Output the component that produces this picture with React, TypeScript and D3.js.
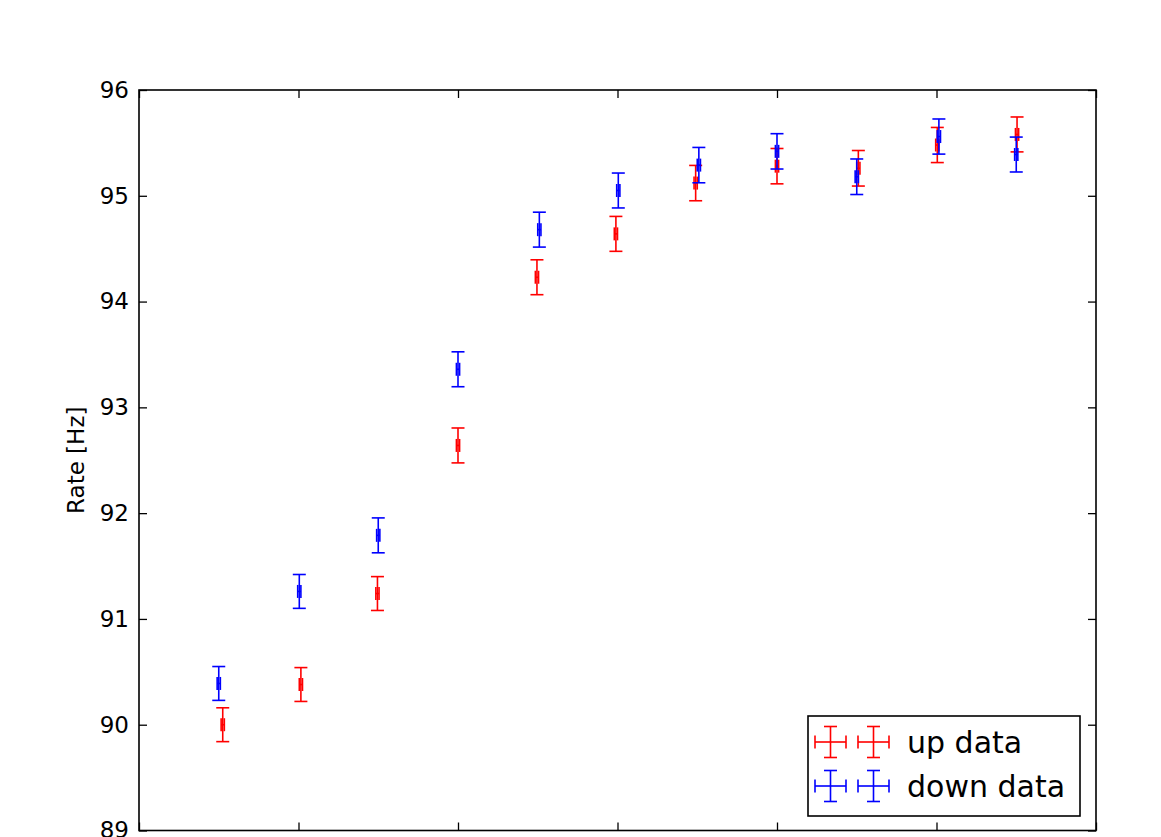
import React, { useEffect, useRef } from 'react';
import * as d3 from 'd3';

// measurement index (slightly jittered as in the original)
const upX = [1.05, 2.03, 2.99, 4.0, 4.99, 5.98, 6.98, 8.0, 9.02, 10.01, 11.01];
const upRate = [90.0, 90.38, 91.24, 92.64, 94.23, 94.64, 95.12, 95.28, 95.26, 95.48, 95.58];
const upErr = [0.16, 0.16, 0.16, 0.165, 0.165, 0.165, 0.167, 0.167, 0.168, 0.166, 0.165];

const downX = [1.0, 2.01, 3.0, 4.0, 5.02, 6.01, 7.02, 8.0, 9.0, 10.03, 11.0];
const downRate = [90.39, 91.26, 91.79, 93.36, 94.68, 95.05, 95.29, 95.42, 95.18, 95.56, 95.39];
const downErr = [0.16, 0.16, 0.165, 0.165, 0.165, 0.165, 0.167, 0.167, 0.168, 0.166, 0.165];

const xErr = 0.02;
const yTicks = [89, 90, 91, 92, 93, 94, 95, 96];
const xTicks = [0, 2, 4, 6, 8, 10, 12];

const series = [
  { name: 'up data', color: '#ff0000', xs: upX, ys: upRate, err: upErr },
  { name: 'down data', color: '#0000ff', xs: downX, ys: downRate, err: downErr },
];

const App: React.FC = () => {
  const svgRef = useRef<SVGSVGElement>(null);

  useEffect(() => {
    if (!svgRef.current) return;
    const svg = d3.select(svgRef.current);
    svg.selectAll('*').remove();

    const width = 1161;
    const height = 837;
    const margin = { top: 90, right: 65, left: 139 };
    const plotBottom = 830.5;
    const font = 'DejaVu Sans, sans-serif';

    const x = d3.scaleLinear().domain([0, 12]).range([margin.left, width - margin.right]);
    const y = d3.scaleLinear().domain([89, 96]).range([plotBottom, margin.top]);

    svg.append('rect').attr('width', width).attr('height', height).attr('fill', '#fff');

    const cap = 6.5;
    const lw = 1.6;

    // Error bars
    series.forEach(s => {
      const g = svg.append('g').attr('stroke', s.color).attr('stroke-width', lw).attr('fill', 'none');
      s.xs.forEach((xv, i) => {
        const cx = x(xv);
        const cy = y(s.ys[i]);
        const y0 = y(s.ys[i] - s.err[i]);
        const y1 = y(s.ys[i] + s.err[i]);
        const x0 = x(xv - xErr);
        const x1 = x(xv + xErr);
        g.append('line').attr('x1', cx).attr('x2', cx).attr('y1', y0).attr('y2', y1);
        g.append('line').attr('x1', cx - cap).attr('x2', cx + cap).attr('y1', y0).attr('y2', y0);
        g.append('line').attr('x1', cx - cap).attr('x2', cx + cap).attr('y1', y1).attr('y2', y1);
        g.append('line').attr('x1', x0).attr('x2', x1).attr('y1', cy).attr('y2', cy);
        g.append('line').attr('x1', x0).attr('x2', x0).attr('y1', cy - cap).attr('y2', cy + cap);
        g.append('line').attr('x1', x1).attr('x2', x1).attr('y1', cy - cap).attr('y2', cy + cap);
      });
    });

    // Axes (ticks inward on all four sides)
    const tickLen = 8;
    const axisColor = '#000';
    const left = svg.append('g')
      .attr('transform', `translate(${margin.left},0)`)
      .call(d3.axisLeft(y).tickValues(yTicks).tickSize(-tickLen).tickPadding(10).tickFormat(d3.format('d')));
    const right = svg.append('g')
      .attr('transform', `translate(${width - margin.right},0)`)
      .call(d3.axisRight(y).tickValues(yTicks).tickSize(-tickLen).tickFormat(() => ''));
    // x tick labels fall below the visible page, as in the reference
    const bottom = svg.append('g')
      .attr('transform', `translate(0,${plotBottom})`)
      .call(d3.axisBottom(x).tickValues(xTicks).tickSize(-tickLen).tickFormat(() => ''));
    const top = svg.append('g')
      .attr('transform', `translate(0,${margin.top})`)
      .call(d3.axisTop(x).tickValues(xTicks).tickSize(-tickLen).tickFormat(() => ''));
    [left, right, bottom, top].forEach(a => {
      a.select('.domain').remove();
      a.selectAll('line').attr('stroke', axisColor).attr('stroke-width', 1.3);
      a.selectAll('text').attr('font-family', font).attr('font-size', 23).attr('fill', '#000');
    });

    svg.append('rect')
      .attr('x', margin.left).attr('y', margin.top)
      .attr('width', width - margin.right - margin.left)
      .attr('height', plotBottom - margin.top)
      .attr('fill', 'none').attr('stroke', axisColor).attr('stroke-width', 1.6);

    svg.append('text')
      .attr('transform', `translate(84,${(margin.top + plotBottom) / 2}) rotate(-90)`)
      .attr('text-anchor', 'middle')
      .attr('font-family', font).attr('font-size', 23)
      .text('Rate [Hz]');

    // Legend
    const lg = svg.append('g').attr('transform', 'translate(808,716)');
    lg.append('rect').attr('width', 272).attr('height', 100)
      .attr('fill', '#fff').attr('stroke', '#000').attr('stroke-width', 1.6);
    series.forEach((s, i) => {
      const cy = 26 + i * 44;
      const row = lg.append('g').attr('stroke', s.color).attr('stroke-width', lw);
      [22.5, 65.5].forEach(cx => {
        const h = 15.5;
        row.append('line').attr('x1', cx - h).attr('x2', cx + h).attr('y1', cy).attr('y2', cy);
        row.append('line').attr('x1', cx).attr('x2', cx).attr('y1', cy - h).attr('y2', cy + h);
        row.append('line').attr('x1', cx - h).attr('x2', cx - h).attr('y1', cy - cap).attr('y2', cy + cap);
        row.append('line').attr('x1', cx + h).attr('x2', cx + h).attr('y1', cy - cap).attr('y2', cy + cap);
        row.append('line').attr('x1', cx - cap).attr('x2', cx + cap).attr('y1', cy - h).attr('y2', cy - h);
        row.append('line').attr('x1', cx - cap).attr('x2', cx + cap).attr('y1', cy + h).attr('y2', cy + h);
      });
      lg.append('text')
        .attr('x', 99).attr('y', cy)
        .attr('dy', '0.36em')
        .attr('font-family', font).attr('font-size', 30)
        .attr('fill', '#000')
        .text(s.name);
    });
  }, []);

  return (
    <svg
      ref={svgRef}
      width={1161}
      height={837}
      style={{ position: 'absolute', left: 0, top: 0, display: 'block' }}
    />
  );
};

export default App;
